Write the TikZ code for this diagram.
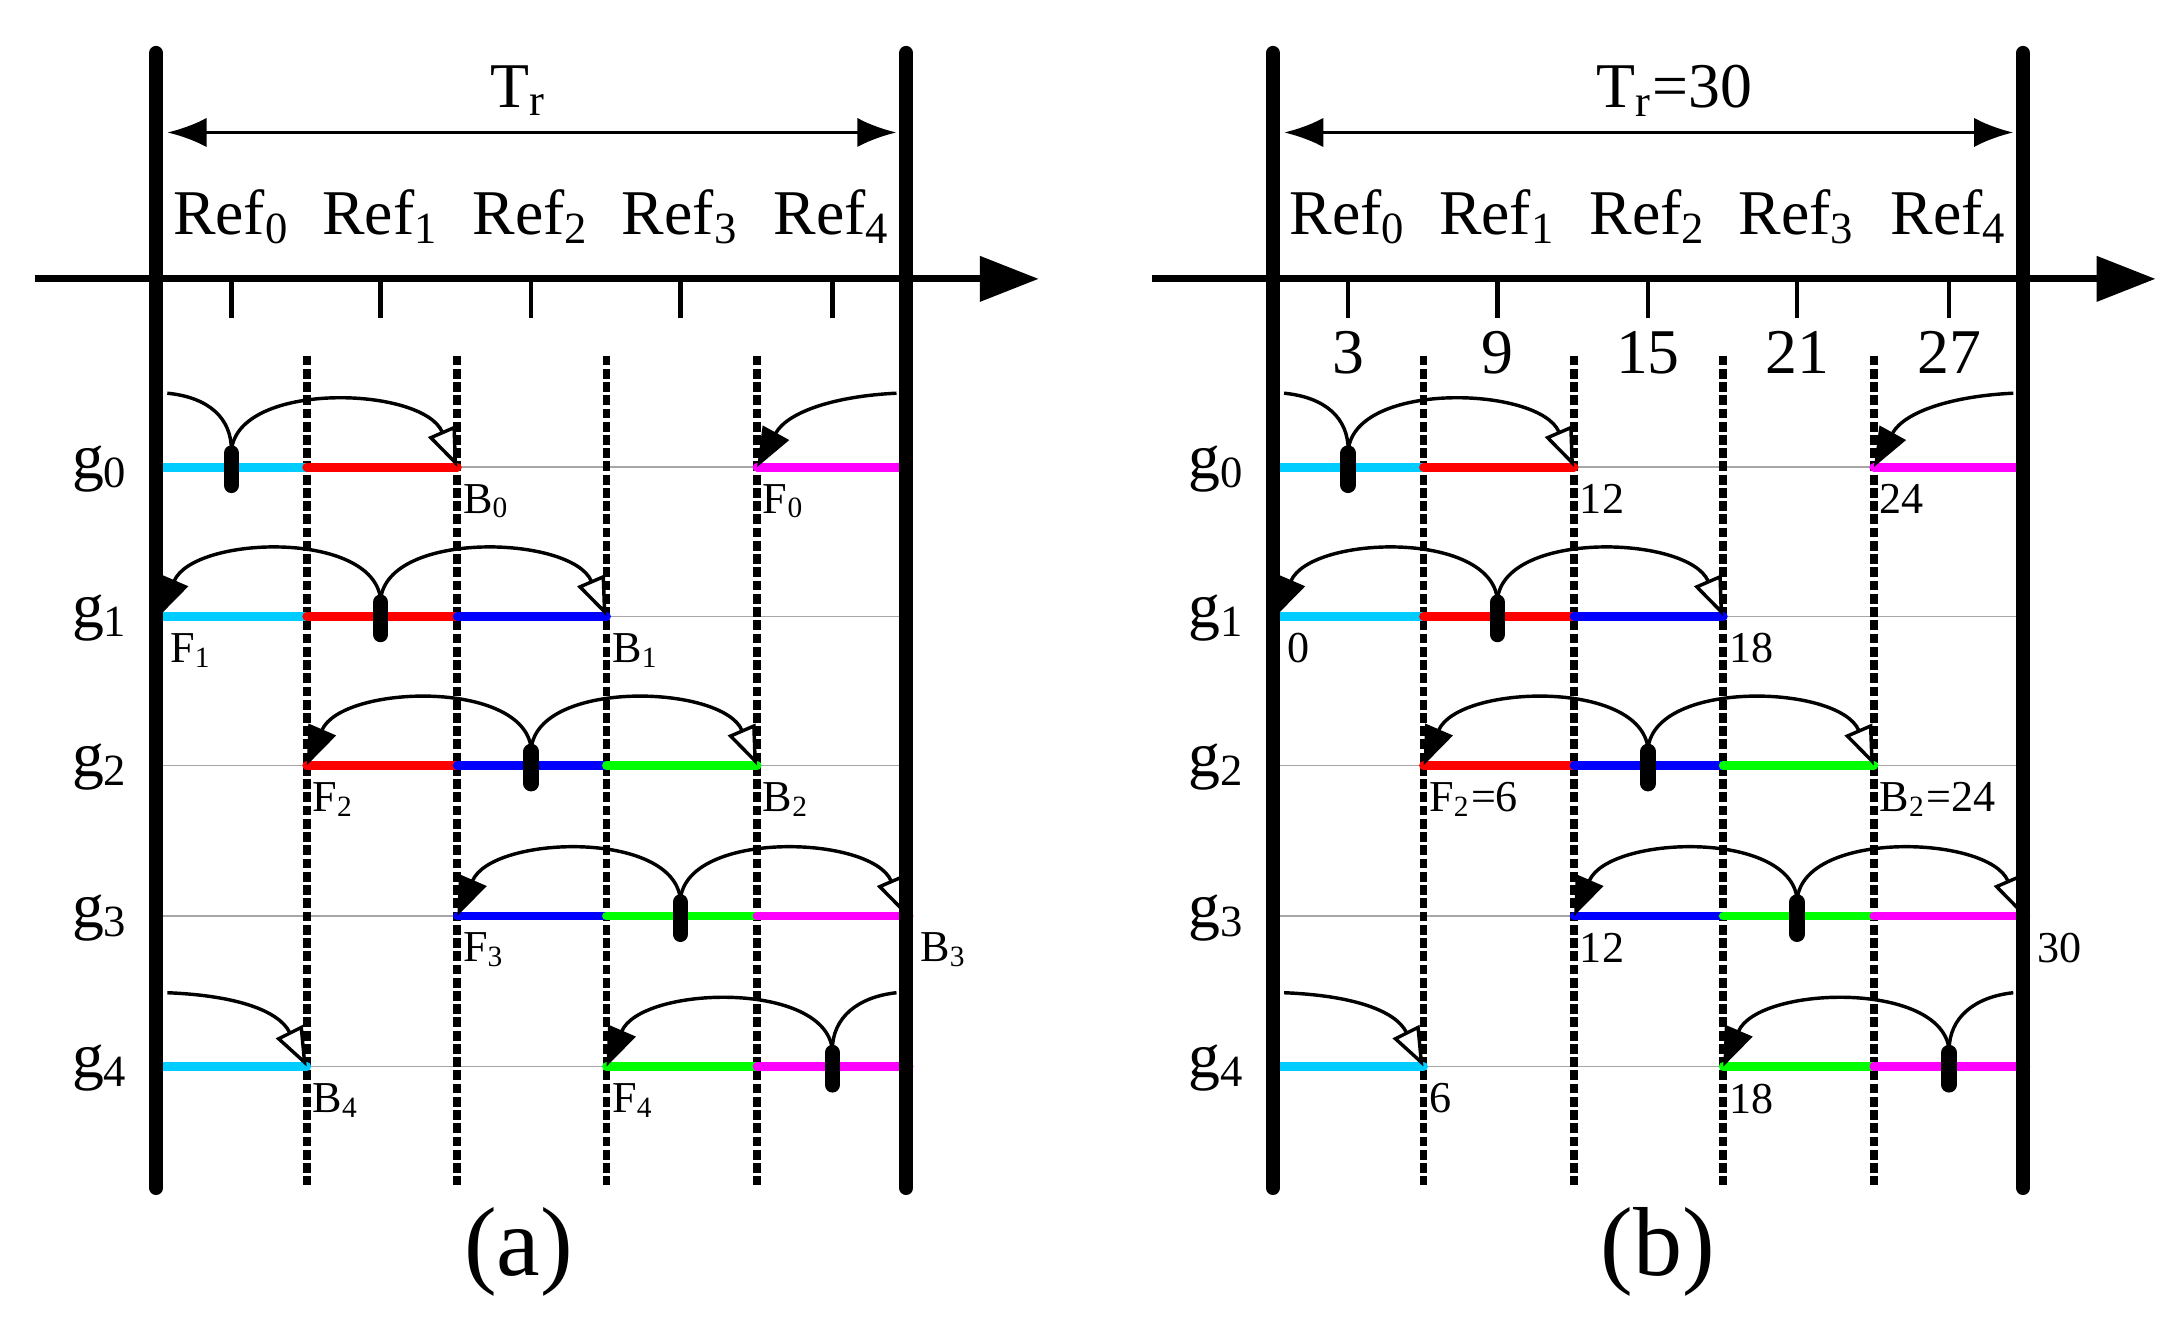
\documentclass[tikz,border=0pt]{standalone}
\usepackage{fontspec}
\setmainfont{Liberation Serif}
\usetikzlibrary{arrows.meta}
\definecolor{segcyan}{RGB}{0,204,255}
\definecolor{segred}{RGB}{255,0,0}
\definecolor{segblue}{RGB}{0,0,255}
\definecolor{seggreen}{RGB}{0,255,0}
\definecolor{segmag}{RGB}{255,0,255}
\tikzset{
  bar/.style={line width=2.9pt, line cap=round},
  sync/.style={line width=1.6pt, dash pattern=on 2pt off 0.7pt},
  seg/.style={line width=1.8pt, line cap=round},
  grid/.style={gray!70, line width=0.3pt},
  hitmark/.style={line width=3.2pt, line cap=round},
  hop/.style={line width=0.7pt},
  back/.style={hop, -{Triangle[open, length=8pt, width=6pt, line width=0.7pt]}},
  fwd/.style={hop, -{Triangle[length=8pt, width=6pt]}},
  lbl/.style={font=\fontsize{9}{9}\selectfont, inner sep=1pt},
  ref/.style={font=\fontsize{13}{13}\selectfont},
}
% one row of segments: y, from-x, to-x, colour
\newcommand{\seg}[4]{\draw[seg, #4] (#2,#1) -- (#3,#1);}
% marker at x on row y
\newcommand{\hit}[2]{\draw[hitmark] (#1,#2-10) -- (#1,#2+13);}
% arc from marker x to back edge x on row y
\newcommand{\tob}[3]{\draw[back] (#1,#2-12) .. controls (#1+5,#2-62) and (#3-25,#2-58) .. (#3,#2);}
% arc from marker x to front edge x on row y
\newcommand{\tof}[3]{\draw[fwd] (#1,#2-12) .. controls (#1-5,#2-62) and (#3+25,#2-58) .. (#3,#2);}
\newcommand{\panel}{%
  \foreach \r in {335,442,549,657,765}
    \draw[grid] (112,\r) -- (650,\r);
  \draw[-{Triangle[length=12pt, width=9pt]}, line width=1.4pt] (25,200) -- (745,200);
  \foreach \t [count=\i from 0] in {166,273,381,488,597} {
    \draw[line width=0.9pt] (\t,200) -- (\t,228);
    \node[ref, anchor=base] at (\t,168) {Ref\textsubscript{\i}};
  }
  \draw[{Latex[length=8pt]}-{Latex[length=8pt]}, line width=0.8pt] (120,95) -- (643,95);
  \foreach \x in {220,328,435,543}
    \draw[sync] (\x,255) -- (\x,850);
  \foreach \r [count=\i from 0] in {335,442,549,657,765}
    \node[ref, anchor=base] at (72,\r+8) {g\textsubscript{\i}};
  % g0
  \seg{335}{112}{220}{segcyan} \seg{335}{220}{328}{segred} \seg{335}{543}{650}{segmag}
  \draw[hop] (120,282) .. controls (150,285) and (166,300) .. (166,323);
  \tob{166}{335}{328}
  \draw[fwd] (643,282) .. controls (600,284) and (565,295) .. (543,335);
  \hit{166}{335}
  % g1
  \seg{442}{112}{220}{segcyan} \seg{442}{220}{328}{segred} \seg{442}{328}{435}{segblue}
  \tof{273}{442}{114}
  \tob{273}{442}{435}
  \hit{273}{442}
  % g2
  \seg{549}{220}{328}{segred} \seg{549}{328}{435}{segblue} \seg{549}{435}{543}{seggreen}
  \tof{381}{549}{220}
  \tob{381}{549}{543}
  \hit{381}{549}
  % g3
  \seg{657}{328}{435}{segblue} \seg{657}{435}{543}{seggreen} \seg{657}{543}{652}{segmag}
  \tof{488}{657}{328}
  \tob{488}{657}{650}
  \hit{488}{657}
  % g4
  \seg{765}{112}{220}{segcyan} \seg{765}{435}{543}{seggreen} \seg{765}{543}{652}{segmag}
  \draw[back] (120,712) .. controls (170,714) and (200,725) .. (220,765);
  \tof{597}{765}{435}
  \draw[hop] (643,712) .. controls (615,715) and (597,730) .. (597,753);
  \hit{597}{765}
  \draw[bar] (112,38) -- (112,852);
  \draw[bar] (650,38) -- (650,852);
}
\begin{document}
\begin{tikzpicture}[x=0.01cm, y=-0.01cm]
\useasboundingbox (0,0) rectangle (1560,950);
% (a)
\begin{scope}
  \panel
  \node[ref] at (372,65) {T\textsubscript{r}};
  \node[font=\fontsize{20}{20}\selectfont] at (372,898) {(a)};
  \node[lbl, anchor=north west] at (328,343) {B\textsubscript{0}};
  \node[lbl, anchor=north west] at (543,343) {F\textsubscript{0}};
  \node[lbl, anchor=north west] at (118,450) {F\textsubscript{1}};
  \node[lbl, anchor=north west] at (435,450) {B\textsubscript{1}};
  \node[lbl, anchor=north west] at (220,557) {F\textsubscript{2}};
  \node[lbl, anchor=north west] at (543,557) {B\textsubscript{2}};
  \node[lbl, anchor=north west] at (328,665) {F\textsubscript{3}};
  \node[lbl, anchor=north west] at (656,665) {B\textsubscript{3}};
  \node[lbl, anchor=north west] at (220,773) {B\textsubscript{4}};
  \node[lbl, anchor=north west] at (435,773) {F\textsubscript{4}};
\end{scope}
% (b)
\begin{scope}[shift={(801,0)}]
  \panel
  \node[ref] at (400,65) {T\textsubscript{r}=30};
  \node[font=\fontsize{20}{20}\selectfont] at (388,898) {(b)};
  \foreach \t/\v in {166/3,273/9,381/15,488/21,597/27}
    \node[ref, anchor=base] at (\t,268) {\v};
  \node[lbl, anchor=north west] at (328,343) {12};
  \node[lbl, anchor=north west] at (543,343) {24};
  \node[lbl, anchor=north west] at (118,450) {0};
  \node[lbl, anchor=north west] at (435,450) {18};
  \node[lbl, anchor=north west] at (220,557) {F\textsubscript{2}=6};
  \node[lbl, anchor=north west] at (543,557) {B\textsubscript{2}=24};
  \node[lbl, anchor=north west] at (328,665) {12};
  \node[lbl, anchor=north west] at (656,665) {30};
  \node[lbl, anchor=north west] at (220,773) {6};
  \node[lbl, anchor=north west] at (435,773) {18};
\end{scope}
\end{tikzpicture}
\end{document}
